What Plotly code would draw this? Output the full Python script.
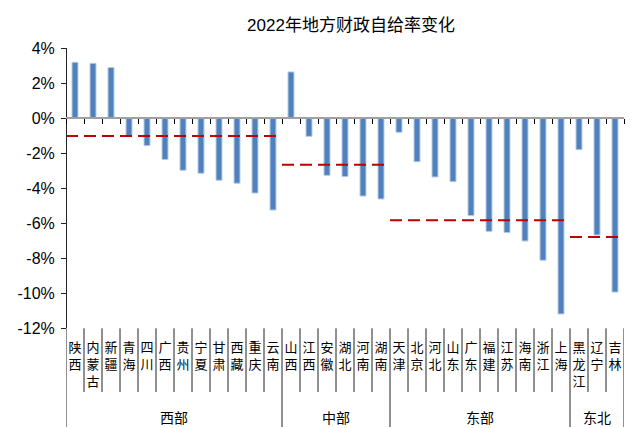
import plotly.graph_objects as go

# ---------------- data ----------------
title_text = "2022年地方财政自给率变化"
region_names = ["西部", "中部", "东部", "东北"]
west_names = ["陕西", "内蒙古", "新疆", "青海", "四川", "广西", "贵州", "宁夏", "甘肃", "西藏", "重庆", "云南"]
west_vals = [3.20, 3.14, 2.90, -1.00, -1.56, -2.35, -2.97, -3.14, -3.54, -3.71, -4.27, -5.24]
central_names = ["山西", "江西", "安徽", "湖北", "河南", "湖南"]
central_vals = [2.65, -1.03, -3.26, -3.33, -4.44, -4.61]
east_names = ["天津", "北京", "河北", "山东", "广东", "福建", "江苏", "海南", "浙江", "上海"]
east_vals = [-0.80, -2.48, -3.35, -3.62, -5.56, -6.46, -6.53, -7.01, -8.11, -11.18]
ne_names = ["黑龙江", "辽宁", "吉林"]
ne_vals = [-1.79, -6.67, -9.93]
region_avgs = [-1.01, -2.65, -5.83, -6.78]
y_ticks = [4, 2, 0, -2, -4, -6, -8, -10, -12]

groups = [west_names, central_names, east_names, ne_names]
group_vals = [west_vals, central_vals, east_vals, ne_vals]

names = [n for g in groups for n in g]
vals = [v for g in group_vals for v in g]
n = len(names)

# ---------------- layout helpers ----------------
OFF = 8                      # page body margin
W, H = 633 - OFF, 428 - OFF  # figure size
def px_x(p):
    return (p - OFF) / W
def px_y(p):
    return 1 - (p - OFF) / H

ymin, ymax = -12, 4
ydom = [px_y(328.3), px_y(48.3)]
x_dom = [px_x(66), px_x(624)]
zero_pos = ydom[0] + (0 - ymin) / (ymax - ymin) * (ydom[1] - ydom[0])

xs = list(range(n))
ticktext = ["<br>".join(list(nm)) for nm in names]

fig = go.Figure()

# bars
fig.add_trace(go.Bar(
    x=xs, y=vals, width=0.33,
    marker=dict(color="#4F81BD", line=dict(color="#B3CAE6", width=1)),
    xaxis="x", yaxis="y", showlegend=False, hoverinfo="skip",
))

# zero-axis helper trace (invisible)
fig.add_trace(go.Scatter(x=[-0.5, n - 0.5], y=[0, 0], mode="lines",
                         line=dict(width=0), xaxis="x2", yaxis="y",
                         showlegend=False, hoverinfo="skip"))

# group average dashed lines on their own axis
start = 0
for g, avg in zip(groups, region_avgs):
    end = start + len(g)
    fig.add_trace(go.Scatter(
        x=[start, end], y=[avg, avg], mode="lines",
        line=dict(color="#C00000", width=2, dash="12px,6px"),
        xaxis="x3", yaxis="y", showlegend=False, hoverinfo="skip",
    ))
    start = end

# separators below the plot and group labels
shapes = []
annotations = []
bounds = [0]
for g in groups:
    bounds.append(bounds[-1] + len(g))
for k in range(n + 1):
    is_group = k in bounds
    shapes.append(dict(
        type="line", xref="x", yref="paper",
        x0=k - 0.5, x1=k - 0.5,
        y0=ydom[0], y1=px_y(427) if is_group else px_y(392),
        line=dict(color="#222", width=1),
    ))
for i, rn in enumerate(region_names):
    c = (bounds[i] + bounds[i + 1] - 1) / 2
    annotations.append(dict(
        text=rn, x=c, y=px_y(416.5), xref="x", yref="paper",
        showarrow=False, xanchor="center", yanchor="middle",
        font=dict(size=14, color="#000", family="Noto Sans CJK SC"),
    ))

fig.update_layout(
    width=W, height=H,
    margin=dict(l=0, r=0, t=0, b=0, autoexpand=False),
    paper_bgcolor="white", plot_bgcolor="rgba(0,0,0,0)",
    title=dict(text=title_text, x=px_x(351), y=px_y(25), xref="paper", yref="paper",
               xanchor="center", yanchor="middle", automargin=False,
               font=dict(size=17, color="#000", family="Liberation Sans, Noto Sans CJK SC")),
    xaxis=dict(domain=x_dom, range=[-0.5, n - 0.5], anchor="free", position=ydom[0],
               tickvals=xs, ticktext=ticktext, ticks="", showline=False, automargin=False,
               showgrid=False, zeroline=False, ticklabelstandoff=10,
               tickfont=dict(size=13, color="#000", family="Noto Sans CJK SC")),
    xaxis2=dict(domain=x_dom, range=[-0.5, n - 0.5], anchor="free", position=zero_pos,
                overlaying="x", showline=True, linecolor="#A0A0A0", linewidth=1.5,
                ticks="outside", ticklen=5, tickcolor="#000", tickwidth=1, automargin=False,
                tickvals=[k - 0.5 for k in range(n + 1)], showticklabels=False,
                showgrid=False, zeroline=False),
    xaxis3=dict(domain=[px_x(52.7), px_x(631.5)], range=[0, n], overlaying="x",
                anchor="free", position=0, visible=False, showgrid=False, zeroline=False,
                automargin=False),
    yaxis=dict(domain=ydom, range=[ymin, ymax], anchor="free", position=px_x(66),
               tickvals=y_ticks, ticktext=[f"{v}%" for v in y_ticks],
               showline=True, linecolor="#222", linewidth=1, automargin=False,
               ticks="outside", ticklen=5, tickcolor="#222",
               showgrid=False, zeroline=False, ticklabelstandoff=3,
               tickfont=dict(size=16, color="#000", family="Liberation Sans")),
    shapes=shapes,
    annotations=annotations,
)

fig.write_html("out.html")
